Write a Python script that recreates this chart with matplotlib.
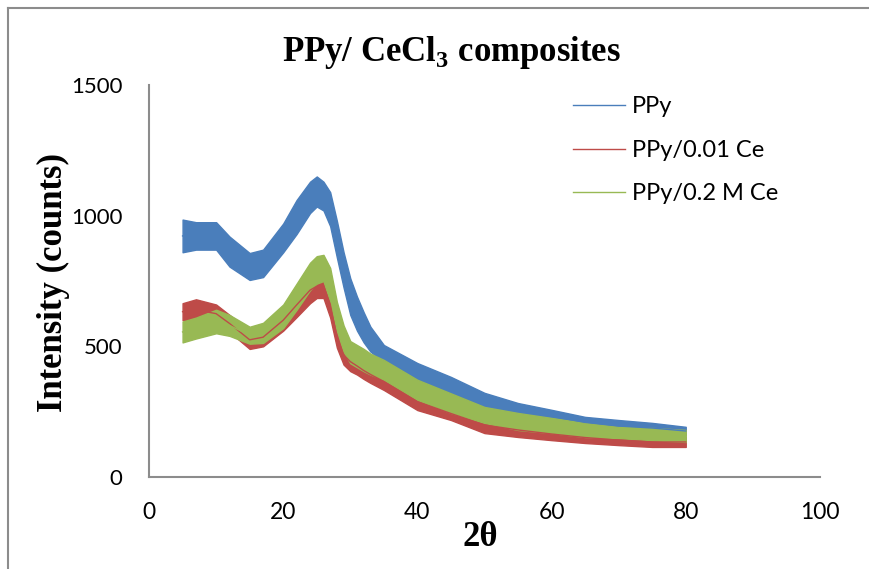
import matplotlib
matplotlib.use("Agg")
import matplotlib.pyplot as plt
from matplotlib.lines import Line2D

plt.rcParams["mathtext.fontset"] = "custom"
plt.rcParams["mathtext.rm"] = "Liberation Serif"
plt.rcParams["mathtext.bf"] = "Liberation Serif:bold"

# 2-theta positions (degrees) where the bands were read
two_theta = [5, 7, 10, 12, 15, 17, 20, 22, 24, 25, 26, 27, 28, 29, 30, 31, 32, 33,
             35, 40, 45, 50, 55, 60, 65, 70, 75, 80]

# PPy (lower / upper edge of the noisy trace)
ppy_lo = [860, 870, 870, 805, 754, 765, 860, 930, 1010, 1035, 1020, 960, 840, 725, 620, 560, 515, 480,
          440, 360, 306, 257, 230, 207, 188, 172, 168, 160]
ppy_hi = [985, 975, 975, 920, 857, 870, 970, 1060, 1130, 1150, 1130, 1090, 980, 860, 760, 690, 630, 575,
          505, 436, 383, 322, 283, 257, 230, 218, 207, 192]

# PPy/0.01 Ce
ce001_lo = [600, 600, 590, 555, 490, 500, 560, 612, 665, 685, 685, 610, 495, 430, 405, 392, 375, 360,
            333, 256, 218, 168, 153, 141, 130, 122, 115, 115]
ce001_hi = [665, 680, 660, 620, 560, 570, 640, 705, 765, 775, 780, 715, 580, 505, 478, 458, 440, 425,
            398, 321, 268, 230, 207, 188, 172, 160, 153, 153]

# PPy/0.2 M Ce
ce02_lo = [515, 530, 550, 540, 510, 513, 570, 640, 715, 740, 750, 670, 560, 480, 435, 420, 405, 392,
           372, 295, 245, 207, 180, 168, 153, 149, 141, 134]
ce02_hi = [595, 610, 640, 620, 575, 590, 660, 740, 820, 845, 850, 800, 670, 580, 520, 505, 490, 472,
           448, 372, 320, 268, 245, 226, 207, 192, 188, 180]

series_names = ["PPy", "PPy/0.01 Ce", "PPy/0.2 M Ce"]
colors = ["#4A7EBB", "#BE4B48", "#98B954"]

x_ticks = [0, 20, 40, 60, 80, 100]
y_ticks = [0, 500, 1000, 1500]

fig = plt.figure(figsize=(8.69, 5.69), dpi=100)
ax = fig.add_axes([0.1715, 0.1617, 0.772, 0.6889])

bands = [(ppy_lo, ppy_hi), (ce001_lo, ce001_hi), (ce02_lo, ce02_hi)]
for (lo, hi), c, name in zip(bands, colors, series_names):
    ax.fill_between(two_theta, lo, hi, color=c, linewidth=1.0, edgecolor=c)
    mid = [(a + b) / 2 for a, b in zip(lo, hi)]
    ax.plot(two_theta, mid, color=c, linewidth=1.0, label=name)

ax.set_xlim(0, 100)
ax.set_ylim(0, 1500)
ax.set_xticks(x_ticks)
ax.set_yticks(y_ticks)
for s in ["top", "right"]:
    ax.spines[s].set_visible(False)
for s in ["left", "bottom"]:
    ax.spines[s].set_color("#8c8c8c")
    ax.spines[s].set_linewidth(1.5)
ax.tick_params(axis="x", length=0, labelsize=16.5, pad=18)
ax.tick_params(axis="y", length=0, labelsize=16, pad=19)
for lab in ax.get_xticklabels() + ax.get_yticklabels():
    lab.set_fontfamily("Lato")

leg = ax.legend(loc="upper left", bbox_to_anchor=(0.60, 1.025), frameon=False,
                prop={"family": "Lato", "size": 17}, handlelength=2.2,
                labelspacing=0.95, handletextpad=0.3)
for h in leg.get_lines():
    h.set_linewidth(1.0)

fig.text(0.52, 0.908, r"PPy/ CeCl$_\mathbf{3}$ composites", ha="center", va="center",
         fontsize=25, fontweight="bold", family="Liberation Serif")
fig.text(0.061, 0.503, "Intensity (counts)", ha="center", va="center", rotation=90,
         fontsize=25, fontweight="bold", family="Liberation Serif")
fig.text(0.553, 0.055, "2θ", ha="center", va="center",
         fontsize=25, fontweight="bold", family="Liberation Serif")

fig.add_artist(Line2D([0.009, 0.009], [0, 0.986], color="#8c8c8c", linewidth=1.5,
                      transform=fig.transFigure))
fig.add_artist(Line2D([0.009, 1.0], [0.986, 0.986], color="#8c8c8c", linewidth=1.5,
                      transform=fig.transFigure))

fig.savefig("out.png", dpi=100)
